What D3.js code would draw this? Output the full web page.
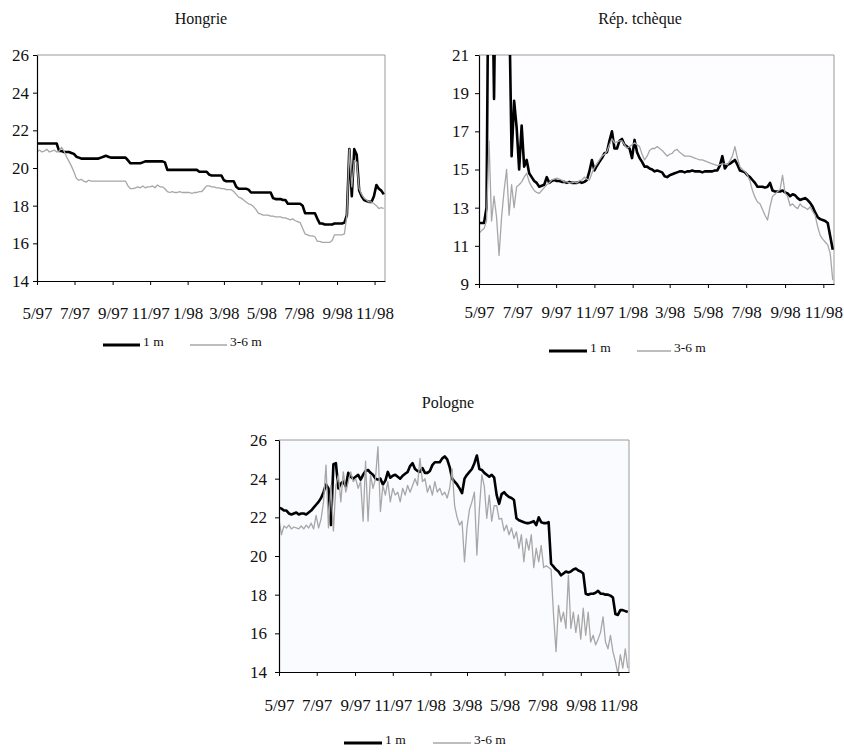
<!DOCTYPE html>
<html>
<head>
<meta charset="utf-8">
<script src="https://cdn.jsdelivr.net/npm/d3@7"></script>
<style>
  body { margin: 0; background: #fff; }
  svg { display: block; font-family: "Liberation Serif", "Times New Roman", serif; }
</style>
</head>
<body>
<div id="chart"></div>
<script>
// daily series, one value every 4 days from 1 May 1997
const startDate = new Date(1997, 4, 1);
const stepDays = 4;
const endDate = new Date(1998, 10, 18);

const tickLabels = ["5/97", "7/97", "9/97", "11/97", "1/98", "3/98", "5/98", "7/98", "9/98", "11/98"];
const seriesNames = ["1 m", "3-6 m"];

const hu1m = [21.3,21.3,21.3,21.3,21.3,21.3,21.3,21.3,21.3,
  20.9,20.9,20.85,20.85,20.85,20.8,20.75,20.6,20.55,20.5,
  20.5,20.5,20.5,20.5,20.5,20.5,20.5,
  20.55,20.6,20.65,20.6,
  20.55,20.55,20.55,20.55,20.55,20.55,20.55,
  20.4,
  20.25,20.25,20.25,20.25,20.25,
  20.3,
  20.35,20.35,20.35,20.35,20.35,20.35,20.35,20.35,
  20.3,
  19.9,19.9,19.9,19.9,19.9,19.9,19.9,19.9,19.9,19.9,19.9,19.9,
  19.9,
  19.8,19.8,19.8,
  19.8,19.65,
  19.6,19.6,19.6,19.6,19.6,
  19.35,19.3,19.3,19.3,19.3,
  19.0,
  18.9,18.9,18.9,18.9,
  18.85,
  18.7,18.7,18.7,18.7,18.7,18.7,18.7,18.7,18.7,
  18.4,18.35,18.35,18.35,18.3,18.3,
  18.1,18.1,18.1,18.1,18.1,18.1,
  18.0,
  17.6,17.6,17.6,17.6,17.6,
  17.3,
  17.05,17.05,17.0,17.0,17.0,17.0,17.05,17.05,17.05,17.05,
  17.1,17.5,21.0,18.5,21.0,20.7,18.8,18.5,18.3,18.25,18.2,18.2,18.5,19.1,18.9,18.8,18.6];

const hu36m = [20.85,20.95,20.85,20.9,21.0,20.85,20.9,20.95,20.85,
  20.9,21.1,20.9,20.6,20.35,20.1,19.8,19.45,19.35,19.4,19.3,
  19.25,19.35,19.3,19.3,19.3,19.3,19.3,19.3,19.3,19.3,19.3,19.3,19.3,19.3,19.3,19.3,19.3,
  19.05,
  18.9,18.9,18.95,19.0,18.95,19.05,18.95,19.0,19.0,19.05,18.95,19.1,19.0,19.0,
  18.9,18.75,
  18.7,18.75,18.7,18.7,18.75,18.7,18.7,18.7,18.7,18.65,18.7,18.7,18.75,
  18.75,18.9,19.05,19.05,19.0,19.0,18.95,18.95,18.9,18.9,18.85,18.85,18.85,
  18.75,18.6,18.45,18.4,18.3,18.2,18.1,18.05,17.95,
  17.8,17.6,17.55,17.5,
  17.5,17.5,17.45,17.45,17.4,17.4,17.4,17.35,17.35,
  17.3,17.25,17.3,17.2,17.15,17.1,
  16.8,16.5,16.45,16.4,16.4,16.35,
  16.1,16.1,16.05,16.05,16.05,16.05,16.15,
  16.45,16.45,16.45,16.45,16.5,
  17.5,21.0,19.0,20.4,20.3,18.9,18.6,18.4,18.3,18.2,18.2,18.1,18.0,17.85,17.9,17.85];

const cz1m = [12.2,12.2,12.2,13.0,
  30,28,18.7,30,30,30,28,27,24,
  15.7,18.6,17.2,15.0,17.3,15.15,15.5,14.8,
  14.6,14.4,14.3,14.1,14.15,14.2,14.6,14.3,14.4,
  14.45,14.4,14.4,14.35,14.35,14.3,14.35,14.3,14.3,14.3,14.35,14.3,14.35,14.45,
  14.9,15.5,14.95,15.2,15.4,15.6,15.85,15.9,16.5,17.0,
  16.1,16.1,16.5,16.6,16.3,16.2,16.1,15.6,16.55,15.9,15.6,15.4,15.15,15.15,15.05,15.0,
  14.9,14.95,14.9,14.85,14.65,14.6,14.7,14.75,14.8,14.85,14.9,
  14.9,14.85,14.9,14.9,14.95,14.9,14.9,14.9,14.85,14.9,14.9,14.9,14.9,14.95,14.95,
  15.2,15.7,15.05,15.25,15.3,15.4,15.5,15.25,14.95,14.9,14.85,14.7,14.6,14.45,14.3,
  14.1,14.1,14.1,14.05,14.1,14.3,13.9,13.85,13.85,13.85,13.9,13.8,13.75,13.6,
  13.7,13.65,13.5,13.4,13.45,13.5,13.4,13.25,13.05,12.75,12.5,12.4,12.35,12.3,12.2,11.5,10.8];

const cz36m = [11.65,11.8,11.9,12.3,16.5,12.3,13.6,12.5,10.5,12.5,13.9,15.0,12.6,14.2,13.0,
  14.1,14.2,14.35,14.6,14.8,14.35,14.1,13.9,13.8,13.75,13.9,14.05,14.2,14.3,14.45,
  14.5,14.55,14.5,14.45,14.35,14.35,14.3,14.3,14.35,14.3,14.4,14.45,14.6,14.5,14.45,
  14.8,15.1,15.3,15.5,15.7,15.8,15.95,16.3,16.6,16.4,16.45,16.5,16.5,16.3,16.1,
  16.2,16.3,16.4,16.3,16.2,15.8,15.5,15.7,16.0,16.1,16.1,16.2,16.1,16.0,15.85,
  15.7,15.8,15.85,16.0,16.05,15.9,15.8,15.7,15.7,15.7,15.65,15.6,15.55,15.5,15.5,
  15.45,15.4,15.35,15.3,15.25,15.2,15.25,15.3,15.3,15.25,15.45,15.7,16.2,15.6,15.15,
  15.0,14.9,14.7,14.4,13.9,13.55,13.3,13.2,12.9,12.6,12.35,13.05,13.6,13.7,13.85,
  13.95,14.7,13.75,13.6,13.1,13.2,13.05,12.95,13.2,13.05,13.0,12.9,13.05,12.8,12.6,
  12.0,11.55,11.35,11.2,11.05,10.6,9.2];

const pl1m = [22.5,22.45,22.35,22.35,22.2,22.15,22.2,22.25,22.15,22.2,22.2,22.15,22.25,22.35,22.5,
  22.65,22.8,23.0,23.3,23.7,23.5,21.6,24.75,24.8,23.5,23.75,23.85,23.6,24.3,24.1,
  24.0,24.1,24.2,23.95,24.2,24.4,24.45,24.3,24.2,24.0,23.95,24.0,23.7,23.9,24.35,
  24.05,24.15,24.2,24.1,24.0,24.15,24.25,24.35,24.65,24.8,24.5,24.4,24.35,24.55,24.3,
  24.3,24.4,24.7,24.85,24.85,24.85,25.05,25.15,25.0,24.6,24.0,23.85,23.7,23.5,23.25,
  24.0,24.2,24.35,24.5,24.8,25.2,24.5,24.45,24.3,24.2,24.1,24.2,24.05,23.15,22.7,
  23.2,23.3,23.15,23.05,23.0,22.9,21.95,21.85,21.8,21.75,21.7,21.7,21.75,21.8,21.6,
  22.0,21.75,21.7,21.7,21.75,19.6,19.45,19.3,19.2,19.0,19.1,19.2,19.15,19.2,19.3,
  19.35,19.25,19.2,19.1,18.05,18.0,18.05,18.05,18.1,18.2,18.05,18.05,18.0,18.0,17.95,
  17.85,17.0,16.95,17.2,17.2,17.15,17.1];

const pl36m = [21.9,21.1,21.55,21.45,21.6,21.4,21.5,21.45,21.4,21.55,21.4,21.6,21.45,21.7,21.4,
  22.1,21.45,21.9,22.8,24.7,21.45,23.65,21.3,23.65,24.2,22.8,24.35,23.3,23.85,24.35,
  23.85,24.0,23.5,23.85,21.8,24.9,21.8,24.2,23.5,24.0,25.65,22.3,23.65,23.15,23.85,
  22.8,23.5,23.15,23.3,22.8,23.5,23.15,23.65,23.3,23.65,24.0,23.65,25.05,23.85,24.0,
  23.3,23.65,23.15,23.85,23.3,23.5,23.15,23.3,23.0,23.5,24.5,22.6,22.0,21.6,21.8,
  19.7,21.45,22.4,22.8,23.3,20.05,22.4,24.2,23.6,21.95,23.15,21.8,22.6,22.6,21.9,
  21.95,21.3,21.6,21.1,21.45,20.9,21.25,20.4,21.1,19.7,20.9,20.3,21.1,19.4,20.4,
  19.7,20.55,19.4,19.5,19.4,19.3,16.95,15.05,17.45,16.6,17.1,16.25,19.0,16.25,17.1,
  16.05,16.95,15.7,17.3,15.9,17.1,15.55,15.9,15.4,15.7,16.05,16.85,15.55,15.2,15.9,
  15.05,14.55,13.9,14.9,14.2,15.2,14.2];

const W = 844, H = 752;

const panels = [
  { title: "Hongrie", s1: hu1m, s2: hu36m, yMin: 14, yMax: 26,
    left: 37, right: 385, top: 55, bottom: 281, bg: "#ffffff",
    titleX: 201, titleY: 24, xLabelPad: 22, yLabelPad: 4,
    legendY: 345, legendX: [103, 190], legendW: [37, 37] },
  { title: "Rép. tchèque", s1: cz1m, s2: cz36m, yMin: 9, yMax: 21,
    left: 479, right: 834, top: 55, bottom: 284, bg: "#fdfdff",
    titleX: 640, titleY: 24, xLabelPad: 18, yLabelPad: 6,
    legendY: 351, legendX: [549, 637], legendW: [38, 34] },
  { title: "Pologne", s1: pl1m, s2: pl36m, yMin: 14, yMax: 26,
    left: 279, right: 629, top: 440, bottom: 672, bg: "#fafbfe",
    titleX: 448, titleY: 408, xLabelPad: 23, yLabelPad: 8,
    legendY: 743, legendX: [344, 433], legendW: [38, 38] }
];

const tickDates = tickLabels.map(s => {
  const [m, y] = s.split("/").map(Number);
  return new Date(1900 + y, m - 1, 1);
});

const svg = d3.select("#chart").append("svg")
  .attr("width", W)
  .attr("height", H);

panels.forEach((p, k) => {
  const x = d3.scaleTime().domain([startDate, endDate]).range([p.left, p.right]);
  const y = d3.scaleLinear().domain([p.yMin, p.yMax]).range([p.bottom, p.top]);

  const g = svg.append("g");

  // plot area
  g.append("rect")
    .attr("x", p.left).attr("y", p.top)
    .attr("width", p.right - p.left).attr("height", p.bottom - p.top)
    .attr("fill", p.bg);

  // grey frame on top and right
  g.append("path")
    .attr("d", `M${p.left},${p.top}H${p.right}V${p.bottom}`)
    .attr("fill", "none")
    .attr("stroke", "#9a9a9a")
    .attr("stroke-width", 1);

  g.append("clipPath").attr("id", "clip" + k)
    .append("rect")
    .attr("x", p.left).attr("y", p.top)
    .attr("width", p.right - p.left).attr("height", p.bottom - p.top);

  const line = d3.line()
    .x((d, i) => x(d3.timeDay.offset(startDate, i * stepDays)))
    .y(d => y(d));

  const lines = g.append("g").attr("clip-path", `url(#clip${k})`);

  lines.append("path")
    .datum(p.s1)
    .attr("d", line)
    .attr("fill", "none")
    .attr("stroke", "#000")
    .attr("stroke-width", 2.6)
    .attr("stroke-linejoin", "round");

  lines.append("path")
    .datum(p.s2)
    .attr("d", line)
    .attr("fill", "none")
    .attr("stroke", "#a8a6a6")
    .attr("stroke-width", 1.3)
    .attr("stroke-linejoin", "round");

  // axes
  const yTicks = d3.range(p.yMin, p.yMax + 1, 2);
  const yAxis = g.append("g")
    .attr("transform", `translate(${p.left},0)`)
    .call(d3.axisLeft(y).tickValues(yTicks).tickSize(4).tickSizeOuter(0).tickPadding(p.yLabelPad));

  const xAxis = g.append("g")
    .attr("transform", `translate(0,${p.bottom})`)
    .call(d3.axisBottom(x).tickValues(tickDates).tickSize(4).tickSizeOuter(0)
      .tickPadding(p.xLabelPad).tickFormat((d, i) => tickLabels[i]));

  [yAxis, xAxis].forEach(a => {
    a.select(".domain").attr("stroke", "#000").attr("stroke-width", 1.2);
    a.selectAll(".tick line").attr("stroke", "#000");
    a.selectAll(".tick text")
      .attr("fill", "#111")
      .style("font-family", "Liberation Serif, serif")
      .style("font-size", "17px");
  });

  // title
  g.append("text")
    .attr("x", p.titleX)
    .attr("y", p.titleY)
    .attr("text-anchor", "middle")
    .attr("fill", "#111")
    .style("font-size", "16px")
    .text(p.title);

  // legend
  const legendColors = ["#000", "#a8a6a6"];
  const legendWidths = [3, 1.3];
  seriesNames.forEach((name, j) => {
    const lx = p.legendX[j];
    g.append("line")
      .attr("x1", lx).attr("x2", lx + p.legendW[j])
      .attr("y1", p.legendY).attr("y2", p.legendY)
      .attr("stroke", legendColors[j])
      .attr("stroke-width", legendWidths[j]);
    g.append("text")
      .attr("x", lx + p.legendW[j] + 3)
      .attr("y", p.legendY + 1)
      .attr("fill", "#111")
      .style("font-size", "13.5px")
      .text(name);
  });
});
</script>
</body>
</html>
